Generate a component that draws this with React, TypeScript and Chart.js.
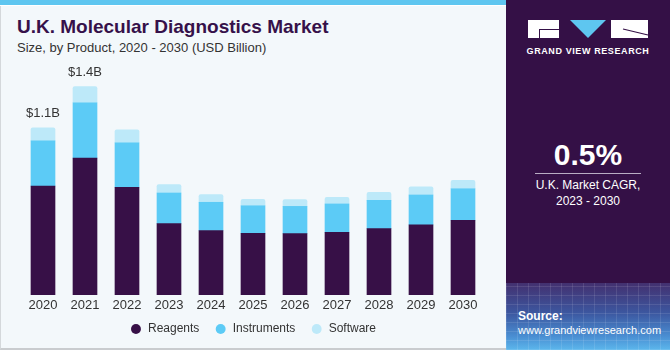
import React, { useEffect, useRef } from "react";
import { Chart, registerables } from "chart.js";

Chart.register(...registerables);

const years = ["2020", "2021", "2022", "2023", "2024", "2025", "2026", "2027", "2028", "2029", "2030"];
const reagents = [0.716, 0.901, 0.709, 0.47, 0.424, 0.406, 0.404, 0.413, 0.437, 0.461, 0.492];
const instruments = [0.298, 0.364, 0.292, 0.201, 0.186, 0.181, 0.179, 0.186, 0.186, 0.197, 0.207];
const software = [0.086, 0.106, 0.086, 0.056, 0.051, 0.043, 0.044, 0.044, 0.053, 0.053, 0.056];
const totalLabels = ["$1.1B", "$1.4B", "", "", "", "", "", "", "", "", ""];

const FONT = "'Liberation Sans', Arial, Helvetica, sans-serif";

const totalsPlugin = {
  id: "totals",
  afterDatasetsDraw(chart: any) {
    const ctx = chart.ctx;
    const meta = chart.getDatasetMeta(2);
    ctx.save();
    ctx.font = `13px ${FONT}`;
    ctx.fillStyle = "#333333";
    ctx.textAlign = "center";
    ctx.textBaseline = "middle";
    meta.data.forEach((el: any, i: number) => {
      const t = totalLabels[i];
      if (t) ctx.fillText(t, el.x, el.y - 14);
    });
    ctx.restore();
  },
};

function BarChart() {
  const ref = useRef<HTMLCanvasElement>(null);
  useEffect(() => {
    if (!ref.current) return;
    const baseGen = (Chart as any).defaults.plugins.legend.labels.generateLabels;
    const chart = new Chart(ref.current, {
      type: "bar",
      data: {
        labels: years,
        datasets: [
          { label: "Reagents", data: reagents, backgroundColor: "#371047", barThickness: 24 },
          { label: "Instruments", data: instruments, backgroundColor: "#5ccbf6", barThickness: 24 },
          {
            label: "Software",
            data: software,
            backgroundColor: "#bde9f9",
            barThickness: 24,
            borderRadius: { topLeft: 2, topRight: 2, bottomLeft: 0, bottomRight: 0 },
            borderSkipped: false,
          },
        ],
      },
      options: {
        animation: false,
        responsive: false,
        devicePixelRatio: 1,
        layout: { padding: { left: 22, right: 21, top: 67, bottom: 5 } },
        plugins: {
          tooltip: { enabled: false },
          legend: {
            position: "bottom",
            labels: {
              usePointStyle: true,
              pointStyle: "circle",
              boxWidth: 12,
              boxHeight: 7,
              padding: 12,
              color: "#333333",
              font: { size: 12, family: FONT },
              generateLabels: (c: any) =>
                baseGen(c).map((it: any, i: number) => ({ ...it, text: i < 2 ? it.text + " " : it.text })),
            },
          },
        },
        scales: {
          x: {
            stacked: true,
            grid: { display: false, drawTicks: false },
            border: { display: false },
            ticks: { color: "#333333", font: { size: 13, family: FONT }, padding: 3 },
            afterFit: (s: any) => {
              s.height = 16;
            },
          },
          y: { stacked: true, display: false, min: 0, max: 1.5 },
        },
      },
      plugins: [totalsPlugin],
    } as any);
    return () => chart.destroy();
  }, []);
  return (
    <canvas
      ref={ref}
      width={505}
      height={350}
      style={{ position: "absolute", left: 0, top: 0, width: 505, height: 350 }}
    />
  );
}

export default function App() {
  return (
    <div
      style={{
        position: "absolute",
        left: 0,
        top: 0,
        width: 670,
        height: 350,
        overflow: "hidden",
        fontFamily: FONT,
        background: "#ffffff",
      }}
    >
      <div
        style={{
          position: "absolute",
          left: 0,
          top: 0,
          width: 506,
          height: 350,
          background: "#f3f8fb",
          borderLeft: "1px solid #d4d8db",
          borderBottom: "2px solid #c9cccf",
          boxSizing: "border-box",
        }}
      />
      <div style={{ position: "absolute", left: 0, top: 0, width: 506, height: 5, background: "#5ec6f0" }} />
      <div style={{ position: "absolute", left: 0, top: 5, width: 506, height: 1, background: "#ffffff" }} />
      <div
        style={{
          position: "absolute",
          left: 17,
          top: 16,
          fontSize: 19,
          fontWeight: 700,
          color: "#36114a",
          whiteSpace: "nowrap",
          lineHeight: "22px",
        }}
      >
        U.K. Molecular Diagnostics Market
      </div>
      <div
        style={{
          position: "absolute",
          left: 17,
          top: 40,
          fontSize: 13,
          color: "#333333",
          whiteSpace: "nowrap",
          lineHeight: "16px",
        }}
      >
        Size, by Product, 2020 - 2030 (USD Billion)
      </div>
      <BarChart />
      <div
        style={{
          position: "absolute",
          left: 506,
          top: 0,
          width: 164,
          height: 350,
          background: "#341046",
        }}
      >
        <div
          style={{
            position: "absolute",
            left: 0,
            top: 283,
            width: 164,
            height: 67,
            background:
              "repeating-linear-gradient(90deg, rgba(255,255,255,0.10) 0 1px, transparent 1px 11px), repeating-linear-gradient(0deg, rgba(255,255,255,0.10) 0 1px, transparent 1px 9px), linear-gradient(180deg, #43306f 0%, #3c57a0 45%, #4a8fd3 80%, #5cb7ec 100%)",
          }}
        />
        <svg width={164} height={60} style={{ position: "absolute", left: 0, top: 0 }}>
          <rect x={22} y={20} width={31} height={18} fill="#ffffff" />
          <path d="M33 29 L53 29 L53 30 L34 30 L34 38 L33 38 Z" fill="#341046" />
          <polygon points="64,20 100,20 82,38" fill="#5ec6f0" />
          <rect x={105} y={20} width={37} height={18} fill="#ffffff" />
          <line x1={117} y1={29} x2={142} y2={35} stroke="#341046" strokeWidth={1.2} />
        </svg>
        <div
          style={{
            position: "absolute",
            left: 0,
            width: 164,
            top: 45,
            textAlign: "center",
            color: "#ffffff",
            fontSize: 9,
            fontWeight: 700,
            letterSpacing: 0.6,
            lineHeight: "12px",
            whiteSpace: "nowrap",
          }}
        >
          GRAND VIEW RESEARCH
        </div>
        <div
          style={{
            position: "absolute",
            left: 0,
            width: 164,
            top: 138,
            textAlign: "center",
            color: "#ffffff",
            fontSize: 30,
            fontWeight: 700,
            lineHeight: "34px",
          }}
        >
          0.5%
        </div>
        <div style={{ position: "absolute", left: 29, top: 173, width: 106, height: 1, background: "#b9adc4" }} />
        <div
          style={{
            position: "absolute",
            left: 0,
            width: 164,
            top: 177,
            textAlign: "center",
            color: "#ffffff",
            fontSize: 12,
            lineHeight: "16px",
          }}
        >
          U.K. Market CAGR,
          <br />
          2023 - 2030
        </div>
        <div
          style={{
            position: "absolute",
            left: 12,
            top: 309,
            color: "#ffffff",
            fontSize: 11,
            lineHeight: "14px",
            whiteSpace: "nowrap",
          }}
        >
          <div style={{ fontWeight: 700, fontSize: 12 }}>Source:</div>
          <div>www.grandviewresearch.com</div>
        </div>
      </div>
    </div>
  );
}
